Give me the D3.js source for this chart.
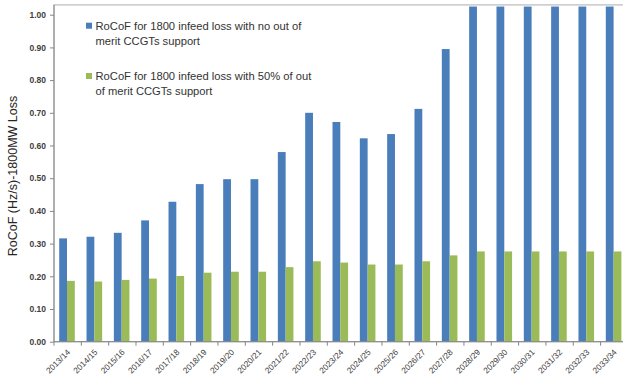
<!DOCTYPE html>
<html>
<head>
<meta charset="utf-8">
<script src="https://cdn.jsdelivr.net/npm/d3@7"></script>
<style>
  html, body { margin: 0; padding: 0; background: #ffffff; }
  svg { display: block; }
</style>
</head>
<body>
<div id="chart"></div>
<script>
// ---- Data ----
const categories = ["2013/14","2014/15","2015/16","2016/17","2017/18","2018/19","2019/20","2020/21",
  "2021/22","2022/23","2023/24","2024/25","2025/26","2026/27","2027/28","2028/29","2029/30",
  "2030/31","2031/32","2032/33","2033/34"];
const seriesNames = [
  "RoCoF for 1800 infeed loss with no out of merit CCGTs support",
  "RoCoF for 1800 infeed loss with 50% of out of merit CCGTs support"
];
const legendLines = [
  ["RoCoF for 1800 infeed loss with no out of", "merit CCGTs support"],
  ["RoCoF for 1800 infeed loss with 50% of out", "of merit CCGTs support"]
];
const noSupport = [0.316, 0.321, 0.333, 0.371, 0.428, 0.482, 0.497, 0.497, 0.580, 0.700,
  0.672, 0.622, 0.635, 0.712, 0.895, 1.025, 1.025, 1.025, 1.025, 1.025, 1.025];
const halfSupport = [0.186, 0.184, 0.189, 0.193, 0.201, 0.211, 0.214, 0.214, 0.228, 0.246,
  0.242, 0.236, 0.236, 0.246, 0.264, 0.276, 0.276, 0.276, 0.276, 0.276, 0.276];
const yTicks = [0, 0.1, 0.2, 0.3, 0.4, 0.5, 0.6, 0.7, 0.8, 0.9, 1.0];
const yMax = 1.03;
const yTitle = "RoCoF (Hz/s)-1800MW Loss";
const colors = ["#4a7ebb", "#9bbb59"];

// ---- Layout ----
const W = 623, H = 380;
const plotLeft = 54, plotBottom = 341.7, plotTop = 4.9;
const bandW = 27.33;
const plotRight = plotLeft + bandW * categories.length;

const svg = d3.select("#chart").append("svg")
  .attr("width", W).attr("height", H)
  .attr("font-family", "'Liberation Sans', Arial, sans-serif");

const x = d3.scaleBand().domain(categories).range([plotLeft, plotRight]).padding(0);
const x1 = d3.scaleBand().domain([0, 1]).range([5.2, 20.8]).padding(0);
const y = d3.scaleLinear().domain([0, yMax]).range([plotBottom, plotTop]);

svg.append("defs").append("clipPath").attr("id", "plotclip")
  .append("rect").attr("x", plotLeft).attr("y", plotTop)
  .attr("width", plotRight - plotLeft).attr("height", plotBottom - plotTop);

// plot area border (top)
svg.append("rect")
  .attr("x", plotLeft).attr("y", plotTop)
  .attr("width", plotRight - plotLeft).attr("height", plotBottom - plotTop)
  .attr("fill", "none").attr("stroke", "#c0c0c0").attr("stroke-width", 1.3);

// bars
const data = [noSupport, halfSupport];
const gBars = svg.append("g").attr("clip-path", "url(#plotclip)");
data.forEach((vals, si) => {
  gBars.selectAll(".b" + si).data(categories).enter().append("rect")
    .attr("x", d => x(d) + x1(si))
    .attr("y", (d, i) => y(vals[i]))
    .attr("width", x1.bandwidth())
    .attr("height", (d, i) => plotBottom - y(vals[i]))
    .attr("fill", colors[si]);
});

// y axis
const yAxis = d3.axisLeft(y).tickValues(yTicks).tickFormat(d3.format(".2f")).tickSize(4).tickPadding(4);
const gy = svg.append("g").attr("transform", `translate(${plotLeft},0)`).call(yAxis);
gy.select(".domain").attr("stroke", "#868686").attr("d", `M-0,${plotBottom}V${plotTop}`);
gy.selectAll(".tick line").attr("stroke", "#868686");
gy.selectAll(".tick text").attr("fill", "#404040").attr("font-size", "8.5px").attr("font-weight", "bold");

// x axis
const boundaries = d3.range(categories.length + 1).map(i => plotLeft + i * bandW);
svg.append("line").attr("x1", plotLeft).attr("x2", plotRight)
  .attr("y1", plotBottom).attr("y2", plotBottom).attr("stroke", "#868686");
svg.selectAll(".xtick").data(boundaries).enter().append("line")
  .attr("x1", d => d).attr("x2", d => d)
  .attr("y1", plotBottom).attr("y2", plotBottom + 4).attr("stroke", "#868686");
svg.selectAll(".xlabel").data(categories).enter().append("text")
  .attr("transform", d => `translate(${x(d) + x.bandwidth() / 2 + 1},${plotBottom + 9}) rotate(-45)`)
  .attr("text-anchor", "end").attr("dy", "0.35em")
  .attr("font-size", "8.3px").attr("fill", "#404040")
  .text(d => d);

// y title
svg.append("text")
  .attr("transform", "translate(17,176) rotate(-90)")
  .attr("text-anchor", "middle")
  .attr("font-size", "12.5px").attr("fill", "#262626")
  .text(yTitle);

// legend
const legendY = [25.7, 76];
legendLines.forEach((lines, si) => {
  const g = svg.append("g");
  g.append("rect").attr("x", 86).attr("y", legendY[si] - 3).attr("width", 6).attr("height", 6)
    .attr("fill", colors[si]);
  lines.forEach((t, li) => {
    g.append("text").attr("x", 95.5).attr("y", legendY[si] + li * 15)
      .attr("dy", "0.35em").attr("font-size", "11.2px").attr("fill", "#333333")
      .text(t);
  });
});
</script>
</body>
</html>
